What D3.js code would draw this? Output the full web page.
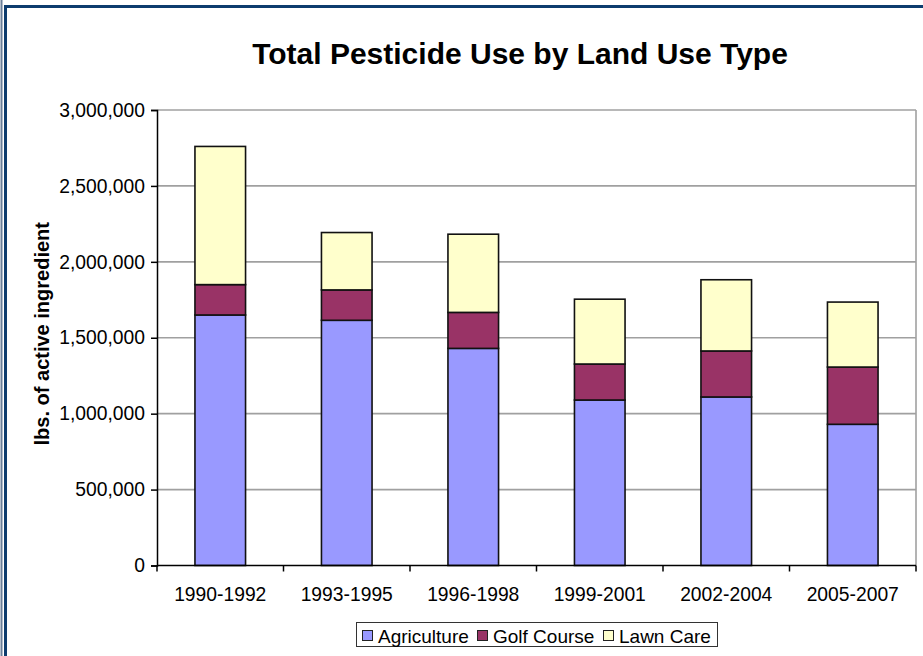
<!DOCTYPE html>
<html><head><meta charset="utf-8">
<script src="https://cdn.jsdelivr.net/npm/d3@7"></script>
<style>
html,body{margin:0;padding:0;background:#fff;}
svg{display:block;font-family:"Liberation Sans",Arial,sans-serif;}
</style></head>
<body><svg id="c" width="923" height="656"></svg>
<script>
const categories = ["1990-1992","1993-1995","1996-1998","1999-2001","2002-2004","2005-2007"];
const agriculture = [1650000,1615000,1430000,1090000,1110000,930000];
const golfCourse  = [200000,200000,237000,237000,303000,377000];
const lawnCare    = [910000,378000,515000,427000,469000,428000];
const seriesNames = ["Agriculture","Golf Course","Lawn Care"];
const seriesColors = ["#9999FF","#993366","#FFFFCC"];
const yTicks = [0,500000,1000000,1500000,2000000,2500000,3000000];
const title = "Total Pesticide Use by Land Use Type";
const yTitle = "lbs. of active ingredient";

const svg = d3.select("#c");
const L = 157, R = 916, T = 110, B = 565.5;
const FONT = "Liberation Sans, Arial, sans-serif";

// frame
svg.append("line").attr("x1",1.5).attr("x2",1.5).attr("y1",0).attr("y2",656).attr("stroke","#6a7f99").attr("stroke-width",2);
svg.append("path").attr("d",`M5.5,656 V6.5 H923`).attr("fill","none").attr("stroke","#0d3c6e").attr("stroke-width",3);

const x = d3.scaleBand().domain(categories).range([L,R]).paddingInner(0.6).paddingOuter(0.3);
const xb = d3.scaleBand().domain(categories).range([L,R]).padding(0);
const y = d3.scaleLinear().domain([0,3000000]).range([B,T]);

// gridlines
svg.append("g").selectAll("line").data(yTicks.filter(d=>d>0)).join("line")
  .attr("x1",L).attr("x2",R).attr("y1",d=>y(d)).attr("y2",d=>y(d))
  .attr("stroke","#a0a0a0").attr("stroke-width",1.6);
// plot border right
svg.append("line").attr("x1",R).attr("x2",R).attr("y1",T).attr("y2",B).attr("stroke","#a0a0a0").attr("stroke-width",1.6);

// stacked data
const rows = categories.map((c,i)=>({cat:c,"Agriculture":agriculture[i],"Golf Course":golfCourse[i],"Lawn Care":lawnCare[i]}));
const stack = d3.stack().keys(seriesNames)(rows);
const color = d3.scaleOrdinal().domain(seriesNames).range(seriesColors);

svg.append("g").selectAll("g").data(stack).join("g").attr("fill",d=>color(d.key))
  .selectAll("rect").data(d=>d).join("rect")
  .attr("x",d=>x(d.data.cat)).attr("width",x.bandwidth())
  .attr("y",d=>y(d[1])).attr("height",d=>y(d[0])-y(d[1]))
  .attr("stroke","#111").attr("stroke-width",1.6);

// y axis
const ya = svg.append("g").attr("transform",`translate(${L},0)`)
  .call(d3.axisLeft(y).tickValues(yTicks).tickFormat(d3.format(",")).tickSize(6).tickPadding(6));
ya.select(".domain").attr("stroke","#000").attr("stroke-width",1.5);
ya.selectAll(".tick line").attr("stroke","#000").attr("stroke-width",1.5);
ya.selectAll("text").attr("font-size",19.3).attr("fill","#000").attr("font-family",FONT);

// x axis
const xa = svg.append("g").attr("transform",`translate(0,${B})`)
  .call(d3.axisBottom(x).tickSize(0).tickPadding(22));
xa.select(".domain").attr("stroke","#000").attr("stroke-width",1.5).attr("d",`M${L},0H${R}`);
xa.selectAll("text").attr("font-size",19.3).attr("fill","#000").attr("font-family",FONT);
const bounds = categories.map(c=>xb(c)).concat([R]);
xa.append("g").selectAll("line").data(bounds).join("line")
  .attr("x1",d=>d).attr("x2",d=>d).attr("y1",0).attr("y2",6).attr("stroke","#000").attr("stroke-width",1.5);

// title
svg.append("text").attr("x",520).attr("y",64).attr("text-anchor","middle")
  .attr("font-size",30).attr("font-weight","bold").text(title);
// y title
svg.append("text").attr("transform",`translate(49,${(T+B)/2-4}) rotate(-90)`).attr("text-anchor","middle")
  .attr("font-size",20).attr("font-weight","bold").text(yTitle);

// legend
const lg = svg.append("g");
lg.append("rect").attr("x",356.5).attr("y",622.5).attr("width",361).attr("height",24)
  .attr("fill","#fff").attr("stroke","#333").attr("stroke-width",1);
const legX = [362,477,603];
const li = lg.selectAll("g.it").data(seriesNames).join("g").attr("class","it")
  .attr("transform",(d,i)=>`translate(${legX[i]},0)`);
li.append("rect").attr("x",0.5).attr("y",630.5).attr("width",10).attr("height",10)
  .attr("fill",d=>color(d)).attr("stroke","#222").attr("stroke-width",1);
li.append("text").attr("x",16).attr("y",643).attr("font-size",19).text(d=>d);
</script></body></html>
